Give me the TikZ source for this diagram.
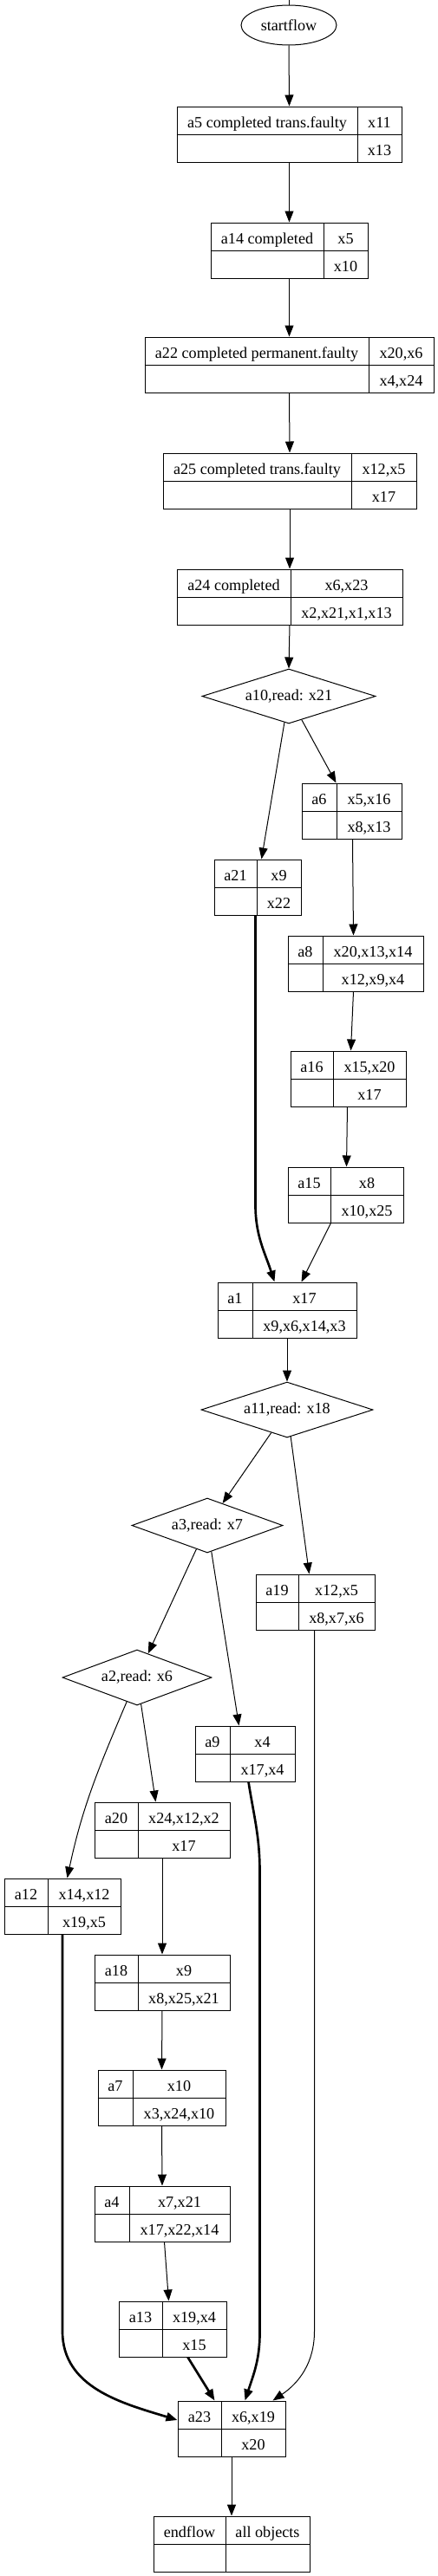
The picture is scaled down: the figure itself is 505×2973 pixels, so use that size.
\documentclass[tikz,border=0pt]{standalone}
\usepackage{fontspec}
\setmainfont{Liberation Serif}
\usetikzlibrary{shapes.geometric,arrows.meta,fit}

% record: name, x1, y1, divider x, x2, y2, label, upper, lower
\newcommand{\recnode}[9]{%
  \node[recbox,fit={(#2,#3) (#5,#6)}] (#1) {};
  \draw (#1.west) -- (#1.east);
  \draw (#4,#3) -- (#4,#6);
  \node[cell] (#1-l) at ({(#2+#4)/2},{#3+24}) {#7};
  \node[cell] (#1-u) at ({(#4+#5)/2},{#3+24}) {#8};
  \node[cell] (#1-d) at ({(#4+#5)/2},{#3+56}) {#9};}

\begin{document}
\begin{tikzpicture}[x=0.75pt,y=-0.75pt,line width=0.75pt,
  every node/.style={font=\fontsize{13.6}{16}\selectfont},
  recbox/.style={draw,inner sep=0pt},
  cell/.style={inner sep=0pt,anchor=base},
  choice/.style={draw,diamond,aspect=3,inner sep=0pt},
  ar/.style={-{Triangle[length=9.75pt,width=7.5pt]}},
  heavy/.style={ar,line width=2pt}]
\useasboundingbox (0,0) rectangle (505,2973);

\coordinate (entry) at (333,0);
\node[draw,ellipse,minimum width=82.5pt,minimum height=34.5pt,inner sep=0pt] (start) at (333,29) {startflow};

\recnode{a5}{204}{123}{412}{463}{187}{a5 completed trans.faulty}{x11}{x13}
\recnode{a14}{243}{257}{373}{424}{321}{a14 completed}{x5}{x10}
\recnode{a22}{167}{389}{425}{500}{453}{a22 completed permanent.faulty}{x20,x6}{x4,x24}
\recnode{a25}{188}{523}{405}{480}{587}{a25 completed trans.faulty}{x12,x5}{x17}
\recnode{a24}{204}{657}{335}{464}{721}{a24 completed}{x6,x23}{x2,x21,x1,x13}
\node[choice,minimum width=150pt,minimum height=47.25pt] (a10) at (333,803.5) {a10,read: x21};
\recnode{a6}{348}{904}{388}{463}{968}{a6}{x5,x16}{x8,x13}
\recnode{a21}{247}{992}{296}{347}{1056}{a21}{x9}{x22}
\recnode{a8}{332}{1080}{372}{488}{1144}{a8}{x20,x13,x14}{x12,x9,x4}
\recnode{a16}{335}{1213}{384}{468}{1277}{a16}{x15,x20}{x17}
\recnode{a15}{332}{1347}{381}{465}{1411}{a15}{x8}{x10,x25}
\recnode{a1}{251}{1480}{291}{411}{1544}{a1}{x17}{x9,x6,x14,x3}
\node[choice,minimum width=148.5pt,minimum height=48pt] (a11) at (331,1627) {a11,read: x18};
\node[choice,minimum width=130.5pt,minimum height=47.25pt] (a3) at (239,1760.5) {a3,read: x7};
\recnode{a19}{295}{1817}{344}{432}{1881}{a19}{x12,x5}{x8,x7,x6}
\node[choice,minimum width=129pt,minimum height=48pt] (a2) at (158,1936) {a2,read: x6};
\recnode{a9}{225}{1992}{265}{340}{2056}{a9}{x4}{x17,x4}
\recnode{a20}{109}{2080}{159}{265}{2144}{a20}{x24,x12,x2}{x17}
\recnode{a12}{5}{2168}{55}{139}{2232}{a12}{x14,x12}{x19,x5}
\recnode{a18}{109}{2256}{159}{265}{2320}{a18}{x9}{x8,x25,x21}
\recnode{a7}{113}{2389}{153}{260}{2453}{a7}{x10}{x3,x24,x10}
\recnode{a4}{109}{2523}{149}{265}{2587}{a4}{x7,x21}{x17,x22,x14}
\recnode{a13}{137}{2656}{187}{261}{2720}{a13}{x19,x4}{x15}
\recnode{a23}{205}{2771}{255}{329}{2835}{a23}{x6,x19}{x20}
\recnode{endflow}{177}{2904}{260}{357}{2968}{endflow}{all objects}{}

\draw (entry) -- (start);
\foreach \a/\b in {start/a5, a5/a14, a14/a22, a22/a25, a25/a24, a24/a10,
                   a1/a11, a20/a18, a18/a7, a7/a4, a23/endflow}
  \draw[ar] (\a.south) -- (\b.north);
\draw[ar] (a10) -- ([shift={(55,0)}]a21.north west);
\draw[ar] (a10) -- ([shift={(40,0)}]a6.north west);
\draw[ar] ([shift={(59,0)}]a6.south west) -- ([shift={(76,0)}]a8.north west);
\draw[ar] ([shift={(76,0)}]a8.south west) -- ([shift={(70,0)}]a16.north west);
\draw[ar] ([shift={(66,0)}]a16.south west) -- ([shift={(68,0)}]a15.north west);
\draw[ar] ([shift={(50,0)}]a15.south west) -- ([shift={(97,0)}]a1.north west);
\draw[heavy] ([shift={(48,0)}]a21.south west) -- ++(0,334)
  to[out=270,in=108] ([shift={(66,0)}]a1.north west);
\draw[ar] (a11) -- (a3);
\draw[ar] (a11) -- ([shift={(62,0)}]a19.north west);
\draw[ar] (a3) -- (a2);
\draw[ar] (a3) -- ([shift={(51,0)}]a9.north west);
\draw[ar] (a2) to[out=247,in=78] ([shift={(73,0)}]a12.north west);
\draw[ar] (a2) -- ([shift={(71,0)}]a20.north west);
\draw[ar] ([shift={(81,0)}]a4.south west) -- ([shift={(58,0)}]a13.north west);
\draw[heavy] ([shift={(80,0)}]a13.south west) -- ([shift={(43,0)}]a23.north west);
\draw[heavy] (a12.south) -- ++(0,458) to[out=270,in=163] ([shift={(0,-10)}]a23.west);
\draw[heavy] ([shift={(62,0)}]a9.south west) to[out=279,in=90] ++(13,104) -- ++(0,532)
  to[out=270,in=72] ([shift={(78,0)}]a23.north west);
\draw[ar] ([shift={(68,0)}]a19.south west) -- ++(0,809)
  to[out=270,in=34] ([shift={(110,0)}]a23.north west);
\end{tikzpicture}
\end{document}
